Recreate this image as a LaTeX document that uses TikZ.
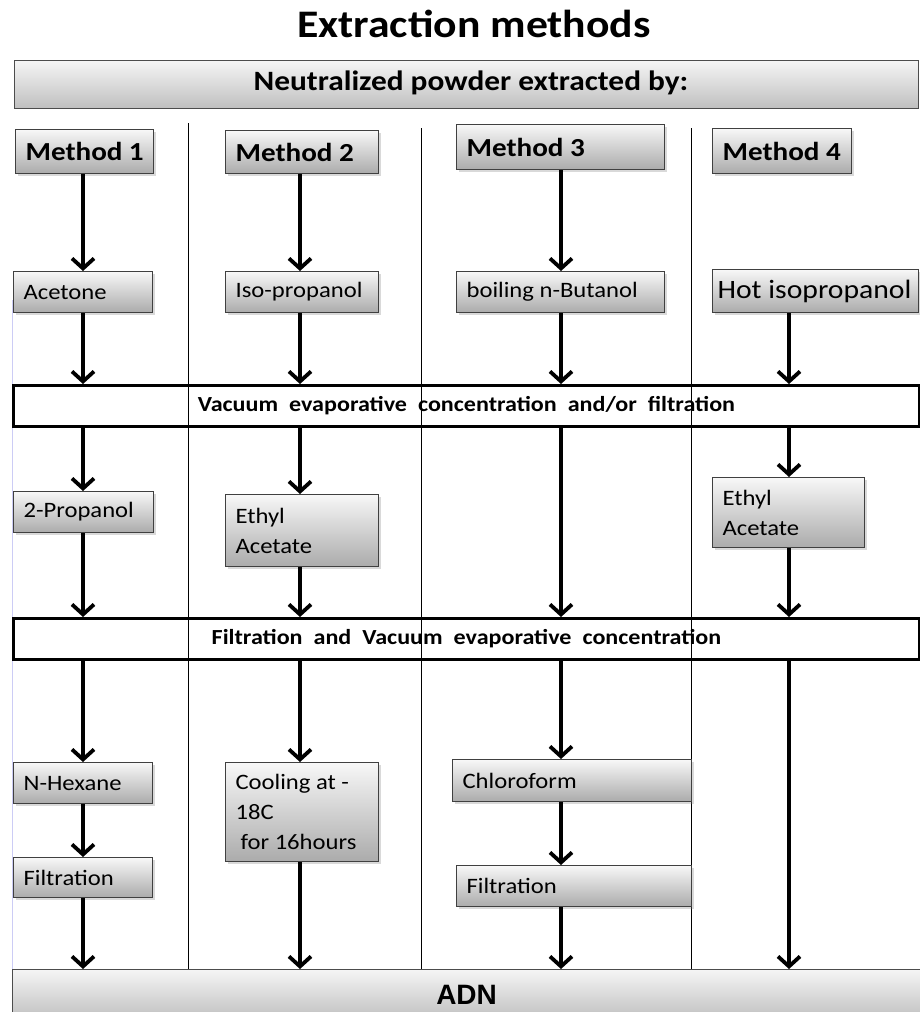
\documentclass[tikz,border=0pt]{standalone}
\usepackage{fontspec}
\setmainfont{Carlito}[FakeStretch=1.12]
\newfontfamily\arialfont{Liberation Sans}
\usetikzlibrary{arrows.meta,shadows}
\newcommand{\widespace}{\spaceskip=11pt plus 1pt\relax}

\begin{document}
\begin{tikzpicture}[x=1pt,y=-1pt]

\tikzstyle{stepbox}=[draw=black!75, line width=1.2pt, top color=black!3, bottom color=black!33,
    drop shadow={shadow xshift=2pt, shadow yshift=-2pt, opacity=0.3},
    anchor=north west, align=flush left, inner xsep=10pt, inner ysep=0pt,
    execute at begin node={\spaceskip=0pt\xspaceskip=0pt\hyphenpenalty=10000\relax},
    font=\fontsize{22}{30}\selectfont]
\tikzstyle{methodbox}=[stepbox, font=\bfseries\fontsize{26}{30}\selectfont]
\tikzstyle{band}=[draw, line width=3pt, anchor=north west, minimum width=906pt,
    minimum height=41pt, inner sep=0pt, font=\bfseries\fontsize{21.5}{24}\selectfont]
\tikzstyle{banner}=[draw=black!70, line width=1.2pt, top color=black!4, bottom color=black!25,
    anchor=north west, inner sep=0pt]
\tikzstyle{arr}=[line width=3.8pt, -{Straight Barb[length=10pt,width=22pt]}]
\tikzstyle{sep}=[line width=1pt]
\tikzset{wh/.style 2 args={minimum width=#1pt, text width=#1pt-20pt, minimum height=#2pt}}

\useasboundingbox (0,0) rectangle (920,1012);
\clip (0,0) rectangle (920,1012);

% title and top banner
\node[font=\bfseries\fontsize{39}{42}\selectfont] (title) at (474,24) {Extraction methods};
\node[banner, minimum width=904pt, minimum height=48pt] (powder) at (14,60) {};
\node[font=\bfseries\fontsize{28}{32}\selectfont] (powdertext) at (471,83) {Neutralized powder extracted by:};

% column lines
\draw[black!20!blue!20, line width=0.8pt] (12,300) -- (12,1012);
\foreach \x/\y in {188/123, 421/128, 691/128}
    \draw[sep] (\x,\y) -- (\x,969);

% bands
\node[band] (vac) at (12,384) {\widespace Vacuum evaporative concentration and/or filtration};
\node[band] (filt) at (12,617) {\widespace Filtration and Vacuum evaporative concentration};
\node[banner, minimum width=908pt, minimum height=50pt, font=\arialfont\bfseries\fontsize{28}{30}\selectfont] (adn) at (12,969) {ADN};

% method boxes
\node[methodbox, wh={138}{44}] (m1) at (15,129) {Method 1};
\node[methodbox, wh={153}{43}] (m2) at (225,130) {Method 2};
\node[methodbox, wh={208}{45}] (m3) at (456,124) {Method 3};
\node[methodbox, wh={139}{45}] (m4) at (712,128) {Method 4};

% solvents
\node[stepbox, wh={139}{41}] (acet) at (13,271) {Acetone};
\node[stepbox, wh={153}{41}] (isop) at (225,271) {Iso-propanol};
\node[stepbox, wh={208}{41}] (buta) at (456,271) {boiling n-Butanol};
\node[stepbox, wh={206}{43}, inner xsep=5pt, text width=196pt, font=\fontsize{26.5}{30}\selectfont] (hotiso) at (712,269) {Hot isopropanol};

\node[stepbox, wh={140}{41}] (prop) at (13,491) {2-Propanol};
\node[stepbox, wh={153}{72}] (ethyla) at (225,494) {Ethyl\\Acetate};
\node[stepbox, wh={152}{70}] (ethylb) at (712,477) {Ethyl\\Acetate};

\node[stepbox, wh={139}{41}] (hex) at (13,762) {N-Hexane};
\node[stepbox, wh={139}{40}] (filta) at (13,857) {Filtration};
\node[stepbox, wh={153}{99}] (cool) at (225,762) {Cooling at -\\18C\\\hspace*{5pt}for 16hours};
\node[stepbox, wh={239}{42}] (chloro) at (452,759) {Chloroform};
\node[stepbox, wh={235}{41}] (filtb) at (456,865) {Filtration};

% arrows
\coordinate (c1) at (83,0);
\coordinate (c2) at (300,0);
\coordinate (c3) at (561,0);
\coordinate (c4) at (789,0);
\foreach \a/\b in {m1/acet, acet/vac, vac/prop, prop/filt, filt/hex, hex/filta, filta/adn}
    \draw[arr] (c1 |- \a.south) -- (c1 |- \b.north);
\foreach \a/\b in {m2/isop, isop/vac, vac/ethyla, ethyla/filt, filt/cool, cool/adn}
    \draw[arr] (c2 |- \a.south) -- (c2 |- \b.north);
\foreach \a/\b in {m3/buta, buta/vac, vac/filt, filt/chloro, chloro/filtb, filtb/adn}
    \draw[arr] (c3 |- \a.south) -- (c3 |- \b.north);
\foreach \a/\b in {hotiso/vac, vac/ethylb, ethylb/filt, filt/adn}
    \draw[arr] (c4 |- \a.south) -- (c4 |- \b.north);

\end{tikzpicture}
\end{document}
